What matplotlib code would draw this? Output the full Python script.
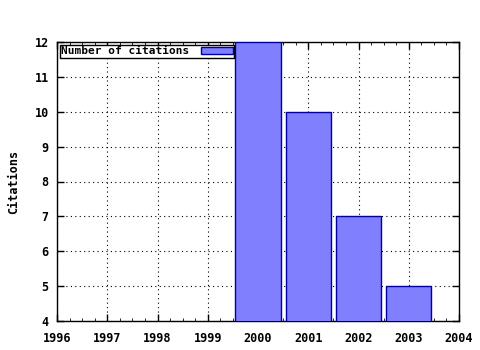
import matplotlib
matplotlib.use("Agg")
import matplotlib.pyplot as plt
from matplotlib.ticker import MultipleLocator

# data
years = [2000, 2001, 2002, 2003]
citations = [12, 10, 7, 5]
xticks = [1996, 1997, 1998, 1999, 2000, 2001, 2002, 2003, 2004]
yticks = [4, 5, 6, 7, 8, 9, 10, 11, 12]

plt.rcParams['font.family'] = 'DejaVu Sans Mono'
plt.rcParams['font.weight'] = 'bold'
plt.rcParams['axes.labelweight'] = 'bold'
plt.rcParams['font.size'] = 8.5

fig = plt.figure(figsize=(4.8, 3.5), dpi=100)
ax = fig.add_axes([57/480, 1 - 321/350, (459 - 57)/480, (321 - 42)/350])

ax.bar(years, citations, width=0.9, bottom=0, color='#8080ff', edgecolor='#0000a0',
       linewidth=1, label='Number of citations', zorder=3)

ax.set_xlim(1996, 2004)
ax.set_ylim(4, 12)
ax.set_xticks(xticks)
ax.set_yticks(yticks)
ax.xaxis.set_minor_locator(MultipleLocator(0.25))
ax.tick_params(direction='in', top=True, right=True, length=5, width=1)
ax.tick_params(axis='x', pad=8)
ax.tick_params(axis='y', pad=6)
ax.tick_params(which='minor', direction='in', top=True, length=2.5)
for lab in ax.get_xticklabels() + ax.get_yticklabels():
    lab.set_fontweight('bold')
ax.grid(True, which='major', linestyle=(0, (1, 3)), color='black', linewidth=0.8, zorder=0)
for s in ax.spines.values():
    s.set_linewidth(1)

ax.set_ylabel('Citations', labelpad=10, fontweight='bold')

leg = ax.legend(loc='upper left', markerfirst=False, fancybox=False, edgecolor='black',
                framealpha=1, borderpad=0.1, handlelength=2.9, handleheight=0.6,
                borderaxespad=0.3, handletextpad=1.0, prop={'weight': 'bold', 'size': 8})
leg.get_frame().set_linewidth(1)

fig.savefig('out.png', dpi=100)
